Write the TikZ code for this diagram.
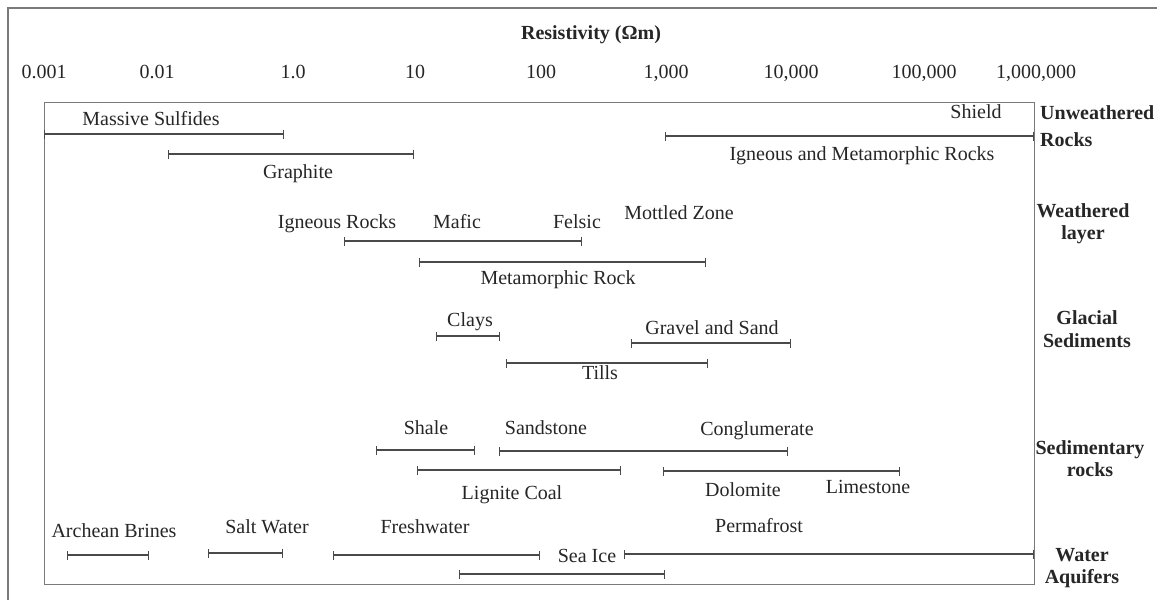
\documentclass[tikz,border=0pt]{standalone}
\usepackage{fontspec}
\setmainfont{Liberation Serif}
\usetikzlibrary{arrows.meta}
\definecolor{txt}{HTML}{262626}
\definecolor{barc}{HTML}{4A4A4A}
\definecolor{boxc}{HTML}{7A7A7A}
\begin{document}
\begin{tikzpicture}[x=1pt,y=-1pt,
  lbl/.style={inner sep=0pt, text height=13.5pt, text depth=0pt, font=\fontsize{20}{24}\selectfont, text=txt},
  cat/.style={lbl, font=\fontsize{20}{24}\selectfont\bfseries},
  rng/.style={draw=barc, line width=1.5pt, {Bar[width=9pt,line width=1.3pt]}-{Bar[width=9pt,line width=1.3pt]}},
  frameline/.style={draw=boxc, line width=1.3pt}]
\useasboundingbox (0,0) rectangle (1157,600);
\fill[white] (0,0) rectangle (1157,600);
% outer frame
\coordinate (of1) at (8,600);
\coordinate (of2) at (8,8);
\coordinate (of3) at (1157,8);
\draw[frameline] (of1) -- (of2) -- (of3);
% inner box
\node[frameline, inner sep=0pt, minimum width=990pt, minimum height=482pt, anchor=north west] (box) at (44,102) {};
% title and axis labels
\node[cat] (title) at (591,33) {Resistivity (Ωm)};
\node[lbl] (t0) at (44,72) {0.001};
\node[lbl] (t1) at (157,72) {0.01};
\node[lbl] (t2) at (293,72) {1.0};
\node[lbl] (t3) at (415,72) {10};
\node[lbl] (t4) at (541,72) {100};
\node[lbl] (t5) at (666,72) {1,000};
\node[lbl] (t6) at (791,72) {10,000};
\node[lbl] (t7) at (924,72) {100,000};
\node[lbl] (t8) at (1036,72) {1,000,000};
% category labels
\node[cat, anchor=west] (c1a) at (1040,113) {Unweathered};
\node[cat, anchor=west] (c1b) at (1040,140) {Rocks};
\node[cat] (c2a) at (1083,211) {Weathered};
\node[cat] (c2b) at (1083,233) {layer};
\node[cat] (c3a) at (1087,318) {Glacial};
\node[cat] (c3b) at (1087,341) {Sediments};
\node[cat] (c4a) at (1090,448) {Sedimentary};
\node[cat] (c4b) at (1090,470) {rocks};
\node[cat] (c5a) at (1082,555) {Water};
\node[cat] (c5b) at (1082,577) {Aquifers};
% --- Unweathered rocks
\node[lbl] (msl) at (151,119) {Massive Sulfides};
\coordinate (ms1) at (44,134); \coordinate (ms2) at (284,134);
\draw[rng] (ms1) -- (ms2);
\coordinate (gr1) at (168,154); \coordinate (gr2) at (414,154);
\draw[rng] (gr1) -- (gr2);
\node[lbl] (grl) at (298,172) {Graphite};
\node[lbl] (shl) at (976,112) {Shield};
\coordinate (im1) at (665,136); \coordinate (im2) at (1034,136);
\draw[rng] (im1) -- (im2);
\node[lbl] (iml) at (862,154) {Igneous and Metamorphic Rocks};
% --- Weathered layer
\node[lbl] (igl) at (337,222) {Igneous Rocks};
\node[lbl] (mal) at (457,222) {Mafic};
\node[lbl] (fel) at (577,222) {Felsic};
\node[lbl] (mzl) at (679,213) {Mottled Zone};
\coordinate (ig1) at (344,241); \coordinate (ig2) at (582,241);
\draw[rng] (ig1) -- (ig2);
\coordinate (mr1) at (419,262); \coordinate (mr2) at (706,262);
\draw[rng] (mr1) -- (mr2);
\node[lbl] (mrl) at (558,278) {Metamorphic Rock};
% --- Glacial sediments
\node[lbl] (cll) at (470,320) {Clays};
\coordinate (cl1) at (436,336); \coordinate (cl2) at (500,336);
\draw[rng] (cl1) -- (cl2);
\node[lbl] (gsl) at (712,328) {Gravel and Sand};
\coordinate (gs1) at (631,343); \coordinate (gs2) at (791,343);
\draw[rng] (gs1) -- (gs2);
\coordinate (ti1) at (506,363); \coordinate (ti2) at (708,363);
\draw[rng] (ti1) -- (ti2);
\node[lbl] (til) at (600,373) {Tills};
% --- Sedimentary rocks
\node[lbl] (sal) at (426,428) {Shale};
\coordinate (sa1) at (376,450); \coordinate (sa2) at (475,450);
\draw[rng] (sa1) -- (sa2);
\node[lbl] (ssl) at (546,428) {Sandstone};
\node[lbl] (cgl) at (757,429) {Conglumerate};
\coordinate (ss1) at (499,451); \coordinate (ss2) at (788,451);
\draw[rng] (ss1) -- (ss2);
\coordinate (lc1) at (417,470); \coordinate (lc2) at (621,470);
\draw[rng] (lc1) -- (lc2);
\node[lbl] (lcl) at (512,493) {Lignite Coal};
\coordinate (do1) at (663,471); \coordinate (do2) at (900,471);
\draw[rng] (do1) -- (do2);
\node[lbl] (dol) at (743,490) {Dolomite};
\node[lbl] (lsl) at (868,487) {Limestone};
% --- Water aquifers
\node[lbl] (abl) at (114,531) {Archean Brines};
\coordinate (ab1) at (67,555); \coordinate (ab2) at (149,555);
\draw[rng] (ab1) -- (ab2);
\node[lbl] (swl) at (267,527) {Salt Water};
\coordinate (sw1) at (208,553); \coordinate (sw2) at (283,553);
\draw[rng] (sw1) -- (sw2);
\node[lbl] (fwl) at (425,527) {Freshwater};
\coordinate (fw1) at (333,555); \coordinate (fw2) at (540,555);
\draw[rng] (fw1) -- (fw2);
\node[lbl] (sil) at (587,556) {Sea Ice};
\coordinate (si1) at (459,574); \coordinate (si2) at (665,574);
\draw[rng] (si1) -- (si2);
\node[lbl] (pfl) at (759,526) {Permafrost};
\coordinate (pf1) at (624,554); \coordinate (pf2) at (1034,554);
\draw[rng] (pf1) -- (pf2);
\end{tikzpicture}
\end{document}
